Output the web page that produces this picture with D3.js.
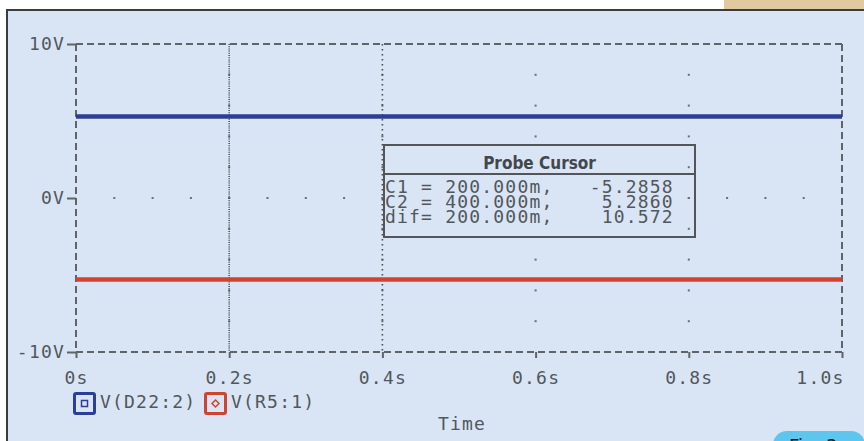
<!DOCTYPE html>
<html>
<head>
<meta charset="utf-8">
<script src="https://cdn.jsdelivr.net/npm/d3@7/dist/d3.min.js"></script>
<style>
  html, body { margin: 0; padding: 0; background: #ffffff; }
  svg { display: block; }
  .mono { font-family: "DejaVu Sans Mono", "Liberation Mono", monospace; font-size: 18px; fill: #51575d; letter-spacing: 1.2px; }
</style>
</head>
<body>
<svg id="chart" width="864" height="441"></svg>
<script>
// ---------------- data ----------------
const times = [0, 1];
const seriesD22 = [5.2860, 5.2860];
const seriesR5 = [-5.2858, -5.2858];
const seriesNames = ["V(D22:2)", "V(R5:1)"];
const xTicks = [0, 0.2, 0.4, 0.6, 0.8, 1.0];
const xTickLabels = ["0s", "0.2s", "0.4s", "0.6s", "0.8s", "1.0s"];
const yTicks = [-10, 0, 10];
const yTickLabels = ["-10V", "0V", "10V"];
const cursorTimes = [0.2, 0.4];
const minorXStep = [0.05];
const minorYStep = [2];
const probeTitle = "Probe Cursor";
const probeLabels = ["C1 = 200.000m,", "C2 = 400.000m,", "dif= 200.000m,"];
const probeValues = ["-5.2858", "5.2860", "10.572"];
const xTitle = "Time";

// ---------------- layout ----------------
const svg = d3.select("#chart");
const W = 864, H = 441;
const x = d3.scaleLinear().domain([0, 1]).range([76, 842]);
const y = d3.scaleLinear().domain([-10, 10]).range([352, 44]);
const bg = "#d9e5f4";
const axisCol = "#5f6468";
const blue = "#2c3e96";
const red = "#d2432f";

// page decorations
svg.append("rect").attr("width", W).attr("height", H).attr("fill", "#ffffff");
svg.append("rect").attr("x", 724).attr("y", 0).attr("width", 140).attr("height", 10).attr("fill", "#e2caa0");
svg.append("rect").attr("x", 7).attr("y", 10).attr("width", W - 7).attr("height", H - 10).attr("fill", bg);
svg.append("line").attr("x1", 6).attr("x2", W).attr("y1", 10).attr("y2", 10).attr("stroke", "#3a3d40").attr("stroke-width", 2);
svg.append("line").attr("x1", 7).attr("x2", 7).attr("y1", 10).attr("y2", H).attr("stroke", "#3a3d40").attr("stroke-width", 2);

// grid dots
const dots = [];
xTicks.slice(1, -1).forEach(t => {
  d3.range(-10 + minorYStep[0], 10, minorYStep[0]).forEach(v => dots.push([t, v]));
});
yTicks.slice(1, -1).forEach(v => {
  d3.range(minorXStep[0], 1 - 1e-9, minorXStep[0]).forEach(t => dots.push([t, v]));
});
const dotG = svg.append("g");
dotG.selectAll("rect").data(dots).join("rect")
  .attr("x", d => x(d[0]) - 1).attr("y", d => y(d[1]) - 1)
  .attr("width", 2).attr("height", 2).attr("fill", "#6a6f74");

// dashed frame
const frame = svg.append("g").attr("fill", "none").attr("stroke", axisCol).attr("stroke-width", 2).attr("stroke-dasharray", "7,4");
frame.append("line").attr("x1", x(0)).attr("x2", x(1)).attr("y1", y(10)).attr("y2", y(10));
frame.append("line").attr("x1", x(0)).attr("x2", x(1)).attr("y1", y(-10)).attr("y2", y(-10));
frame.append("line").attr("x1", x(0)).attr("x2", x(0)).attr("y1", y(10)).attr("y2", y(-10));
frame.append("line").attr("x1", x(1)).attr("x2", x(1)).attr("y1", y(10)).attr("y2", y(-10));

// axes (ticks + labels) via d3 axes
const yAxis = d3.axisLeft(y).tickValues(yTicks).tickFormat((d, i) => yTickLabels[i]).tickSize(9).tickPadding(3);
const gy = svg.append("g").attr("transform", `translate(${x(0)},0)`).call(yAxis);
gy.select(".domain").remove();
gy.selectAll(".tick line").attr("stroke", axisCol).attr("stroke-width", 2);
gy.selectAll(".tick text").attr("class", "mono").attr("font-family", null).attr("font-size", null).attr("fill", null).attr("dy", "0.3em").attr("dx", "1px");

const xAxis = d3.axisBottom(x).tickValues(xTicks)
  .tickFormat((d, i) => xTickLabels[i]).tickSize(6).tickPadding(13);
const gx = svg.append("g").attr("transform", `translate(0,${y(-10)})`).call(xAxis);
gx.select(".domain").remove();
gx.selectAll(".tick line").attr("stroke", axisCol).attr("stroke-width", 2);
gx.selectAll(".tick text").attr("class", "mono").attr("font-family", null).attr("font-size", null).attr("fill", null).attr("dy", "0.71em");
gx.selectAll(".tick text").filter((d, i) => i === xTicks.length - 1).attr("text-anchor", "end").attr("dx", "2px");

// cursors
const cursorDash = ["1,1.2", "1.5,3.5"];
svg.append("g").selectAll("line").data(cursorTimes).join("line")
  .attr("x1", d => x(d)).attr("x2", d => x(d)).attr("y1", y(10)).attr("y2", y(-10))
  .attr("stroke", "#4a4e53").attr("stroke-width", 1.6)
  .attr("stroke-dasharray", (d, i) => cursorDash[i]);

// series lines
const line = d3.line().x((d, i) => x(times[i])).y(d => y(d));
svg.append("path").datum(seriesD22).attr("d", line).attr("fill", "none").attr("stroke", blue).attr("stroke-width", 4.5);
svg.append("path").datum(seriesR5).attr("d", line).attr("fill", "none").attr("stroke", red).attr("stroke-width", 4.5);

// probe cursor box
const bx0 = 384, bx1 = 695, by0 = 145, by1 = 237, sep = 174;
const box = svg.append("g");
box.append("rect").attr("x", bx0).attr("y", by0).attr("width", bx1 - bx0).attr("height", by1 - by0)
  .attr("fill", bg).attr("stroke", "#52565b").attr("stroke-width", 2);
box.append("line").attr("x1", bx0).attr("x2", bx1).attr("y1", sep).attr("y2", sep).attr("stroke", "#52565b").attr("stroke-width", 2);
box.append("text").attr("x", (bx0 + bx1) / 2).attr("y", 169).attr("text-anchor", "middle")
  .attr("font-family", "'DejaVu Sans Condensed', 'DejaVu Sans', sans-serif").attr("font-weight", "bold")
  .attr("font-size", 17).attr("fill", "#43474c").text(probeTitle);
// one monospaced block: label padded so that each value ends on the same column
const rowLen = 24;
const probeRows = probeLabels.map((l, i) => l + " ".repeat(rowLen - l.length - probeValues[i].length) + probeValues[i]);
const ptext = box.append("text").attr("class", "mono").attr("xml:space", "preserve").style("white-space", "pre");
ptext.selectAll("tspan").data(probeRows).join("tspan")
  .attr("x", bx0 + 1).attr("y", (d, i) => 193 + i * 14.8).text(d => d);

// dots that sit on top of the box near its right edge
svg.append("g").selectAll("rect").data(dots.filter(d => x(d[0]) > 680 && x(d[0]) < bx1 && y(d[1]) > by0 && y(d[1]) < by1)).join("rect")
  .attr("x", d => x(d[0]) - 1).attr("y", d => y(d[1]) - 1)
  .attr("width", 2).attr("height", 2).attr("fill", "#6a6f74");

// legend
const lg = svg.append("g");
const legendItems = [
  { name: seriesNames[0], color: blue, sx: 73, tx: 100, shape: "square" },
  { name: seriesNames[1], color: red, sx: 204, tx: 231, shape: "diamond" }
];
legendItems.forEach(it => {
  lg.append("rect").attr("x", it.sx + 1.5).attr("y", 393.5).attr("width", 20).attr("height", 20)
    .attr("rx", 1.5).attr("fill", "none").attr("stroke", it.color).attr("stroke-width", 3);
  const cx = it.sx + 11.5, cy = 403.5;
  if (it.shape === "square") {
    lg.append("rect").attr("x", cx - 3).attr("y", cy - 3).attr("width", 6).attr("height", 6)
      .attr("fill", "none").attr("stroke", it.color).attr("stroke-width", 1.5);
  } else {
    lg.append("path").attr("d", `M${cx},${cy - 3.5}L${cx + 3.5},${cy}L${cx},${cy + 3.5}L${cx - 3.5},${cy}Z`)
      .attr("fill", "none").attr("stroke", it.color).attr("stroke-width", 1.5);
  }
  lg.append("text").attr("class", "mono").attr("x", it.tx).attr("y", 408).text(it.name);
});

// x title
svg.append("text").attr("class", "mono").attr("x", 462).attr("y", 430).attr("text-anchor", "middle").text(xTitle);

// "Fig." badge at bottom right (partially visible, as in the source page)
svg.append("rect").attr("x", 773).attr("y", 431).attr("width", 92).attr("height", 30).attr("rx", 14).attr("fill", "#5cc6ee");
svg.append("text").attr("x", 789).attr("y", 452).attr("font-family", "'DejaVu Sans', sans-serif").attr("font-size", 18)
  .attr("fill", "#111").text("Fig. 3");
</script>
</body>
</html>
